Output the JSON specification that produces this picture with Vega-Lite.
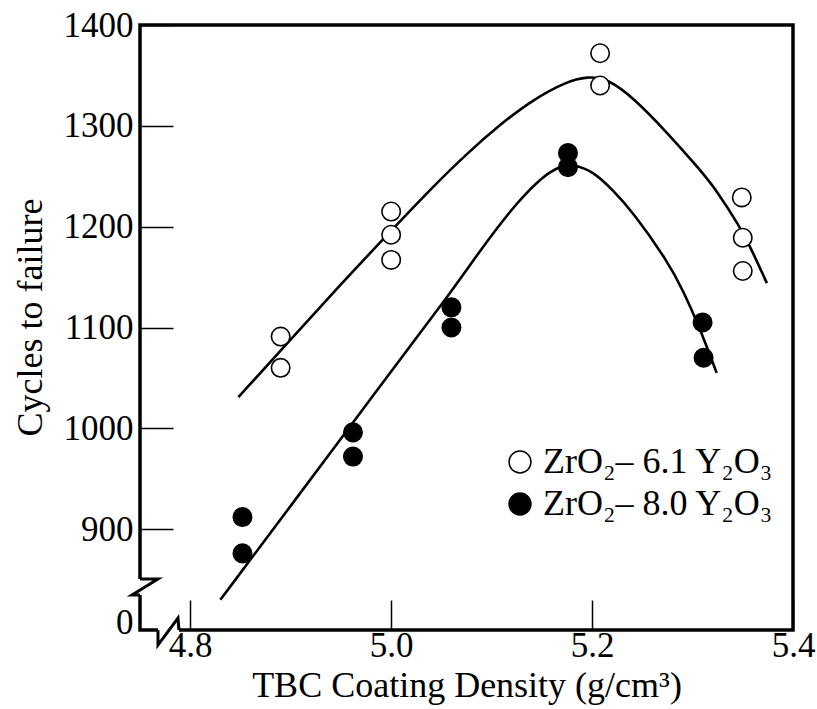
{
  "$schema": "https://vega.github.io/schema/vega-lite/v6.json",
  "width": 653,
  "height": 605,
  "autosize": {"type": "none"},
  "padding": {"left": 140, "top": 25, "right": 24, "bottom": 79},
  "background": "white",
  "config": {
    "font": "Liberation Serif",
    "view": {"stroke": "black", "strokeWidth": 3.5},
    "axis": {
      "domain": false,
      "grid": false,
      "labelFont": "Liberation Serif",
      "titleFont": "Liberation Serif",
      "labelColor": "black",
      "titleColor": "black",
      "tickColor": "black",
      "tickWidth": 1.5,
      "labelFontSize": 35,
      "titleFontSize": 36,
      "titleFontWeight": "normal"
    }
  },
  "datasets": {
    "points": [
      {"x": 4.89, "y": 1091, "series": "ZrO₂– 6.1 Y₂O₃"},
      {"x": 4.89, "y": 1060, "series": "ZrO₂– 6.1 Y₂O₃"},
      {"x": 5.0, "y": 1215, "series": "ZrO₂– 6.1 Y₂O₃"},
      {"x": 5.0, "y": 1192, "series": "ZrO₂– 6.1 Y₂O₃"},
      {"x": 5.0, "y": 1167, "series": "ZrO₂– 6.1 Y₂O₃"},
      {"x": 5.208, "y": 1372, "series": "ZrO₂– 6.1 Y₂O₃"},
      {"x": 5.208, "y": 1340, "series": "ZrO₂– 6.1 Y₂O₃"},
      {"x": 5.349, "y": 1229, "series": "ZrO₂– 6.1 Y₂O₃"},
      {"x": 5.35, "y": 1189, "series": "ZrO₂– 6.1 Y₂O₃"},
      {"x": 5.35, "y": 1156, "series": "ZrO₂– 6.1 Y₂O₃"},
      {"x": 4.852, "y": 912, "series": "ZrO₂– 8.0 Y₂O₃"},
      {"x": 4.852, "y": 876, "series": "ZrO₂– 8.0 Y₂O₃"},
      {"x": 4.962, "y": 996, "series": "ZrO₂– 8.0 Y₂O₃"},
      {"x": 4.962, "y": 972, "series": "ZrO₂– 8.0 Y₂O₃"},
      {"x": 5.06, "y": 1120, "series": "ZrO₂– 8.0 Y₂O₃"},
      {"x": 5.06, "y": 1100, "series": "ZrO₂– 8.0 Y₂O₃"},
      {"x": 5.176, "y": 1273, "series": "ZrO₂– 8.0 Y₂O₃"},
      {"x": 5.176, "y": 1259, "series": "ZrO₂– 8.0 Y₂O₃"},
      {"x": 5.31, "y": 1105, "series": "ZrO₂– 8.0 Y₂O₃"},
      {"x": 5.311, "y": 1070, "series": "ZrO₂– 8.0 Y₂O₃"}
    ],
    "curves": [
      {"x": 4.848, "y": 1031, "series": "a"},
      {"x": 4.9, "y": 1088, "series": "a"},
      {"x": 4.95, "y": 1143, "series": "a"},
      {"x": 5.0, "y": 1196, "series": "a"},
      {"x": 5.042, "y": 1240, "series": "a"},
      {"x": 5.076, "y": 1273, "series": "a"},
      {"x": 5.108, "y": 1301, "series": "a"},
      {"x": 5.141, "y": 1326, "series": "a"},
      {"x": 5.175, "y": 1344, "series": "a"},
      {"x": 5.195, "y": 1349, "series": "a"},
      {"x": 5.215, "y": 1347, "series": "a"},
      {"x": 5.241, "y": 1328, "series": "a"},
      {"x": 5.275, "y": 1293, "series": "a"},
      {"x": 5.307, "y": 1257, "series": "a"},
      {"x": 5.324, "y": 1236, "series": "a"},
      {"x": 5.347, "y": 1200, "series": "a"},
      {"x": 5.357, "y": 1181, "series": "a"},
      {"x": 5.374, "y": 1144, "series": "a"},
      {"x": 4.83, "y": 830, "series": "b"},
      {"x": 4.9, "y": 923, "series": "b"},
      {"x": 4.98, "y": 1030, "series": "b"},
      {"x": 5.059, "y": 1134, "series": "b"},
      {"x": 5.091, "y": 1180, "series": "b"},
      {"x": 5.125, "y": 1224, "series": "b"},
      {"x": 5.151, "y": 1250, "series": "b"},
      {"x": 5.168, "y": 1260, "series": "b"},
      {"x": 5.181, "y": 1262, "series": "b"},
      {"x": 5.201, "y": 1255, "series": "b"},
      {"x": 5.22, "y": 1237, "series": "b"},
      {"x": 5.241, "y": 1214, "series": "b"},
      {"x": 5.275, "y": 1166, "series": "b"},
      {"x": 5.291, "y": 1136, "series": "b"},
      {"x": 5.307, "y": 1100, "series": "b"},
      {"x": 5.324, "y": 1055, "series": "b"}
    ],
    "gaps": [
      {"x": 4.75, "y": 834.7, "x2": 4.75, "y2": 850.6},
      {"x": 4.7679, "y": 800, "x2": 4.7888, "y2": 800}
    ],
    "breaks": [
      {"part": "y", "o": 1, "x": 4.75, "y": 850.6},
      {"part": "y", "o": 2, "x": 4.7679, "y": 850.6},
      {"part": "y", "o": 3, "x": 4.742, "y": 834.7},
      {"part": "y", "o": 4, "x": 4.75, "y": 834.7},
      {"part": "x", "o": 1, "x": 4.7679, "y": 800},
      {"part": "x", "o": 2, "x": 4.7679, "y": 785.1},
      {"part": "x", "o": 3, "x": 4.7878, "y": 811.9},
      {"part": "x", "o": 4, "x": 4.7888, "y": 800}
    ]
  },
  "encoding": {
    "x": {
      "field": "x",
      "type": "quantitative",
      "scale": {"domain": [4.75, 5.4], "nice": false, "zero": false},
      "axis": {
        "title": "TBC Coating Density (g/cm³)",
        "values": [4.8, 5.0, 5.2, 5.4],
        "format": ".1f",
        "tickSize": -30,
        "labelPadding": 28,
        "labelFlush": false,
        "titlePadding": 5
      }
    },
    "y": {
      "field": "y",
      "type": "quantitative",
      "scale": {"domain": [800, 1400], "nice": false, "zero": false},
      "axis": {
        "title": "Cycles to failure",
        "titleY": 292,
        "values": [800, 900, 1000, 1100, 1200, 1300, 1400],
        "format": "d",
        "labelExpr": "datum.value == 800 ? '0' : datum.label",
        "tickSize": -33,
        "labelPadding": 40,
        "tickOpacity": {"condition": {"test": "datum.value == 800", "value": 0}, "value": 1},
        "labelOffset": {"condition": {"test": "datum.value == 800", "value": -8}, "value": 0},
        "titlePadding": 14
      }
    }
  },
  "layer": [
    {
      "data": {"name": "gaps"},
      "mark": {"type": "rule", "color": "white", "strokeWidth": 8},
      "encoding": {"x2": {"field": "x2"}, "y2": {"field": "y2"}}
    },
    {
      "data": {"name": "breaks"},
      "mark": {"type": "line", "color": "black", "strokeWidth": 3, "strokeJoin": "miter"},
      "encoding": {"detail": {"field": "part"}, "order": {"field": "o"}}
    },
    {
      "data": {"name": "curves"},
      "mark": {"type": "line", "interpolate": "basis", "color": "black", "strokeWidth": 2.6},
      "encoding": {"detail": {"field": "series"}}
    },
    {
      "data": {"name": "points"},
      "mark": {"type": "point", "filled": true, "stroke": "black", "strokeWidth": 1.6, "size": 340, "opacity": 1},
      "encoding": {
        "fill": {
          "field": "series",
          "type": "nominal",
          "scale": {"domain": ["ZrO₂– 6.1 Y₂O₃", "ZrO₂– 8.0 Y₂O₃"], "range": ["white", "black"]},
          "legend": {
            "title": null,
            "orient": "none",
            "legendX": 362,
            "legendY": 419,
            "padding": 0,
            "symbolType": "circle",
            "symbolSize": 480,
            "symbolStrokeColor": "black",
            "symbolStrokeWidth": 1.5,
            "symbolOpacity": 1,
            "labelFont": "Liberation Serif",
            "labelFontSize": 36,
            "labelColor": "black",
            "labelOffset": 5,
            "labelLimit": 400,
            "rowPadding": 6
          }
        }
      }
    }
  ]
}
